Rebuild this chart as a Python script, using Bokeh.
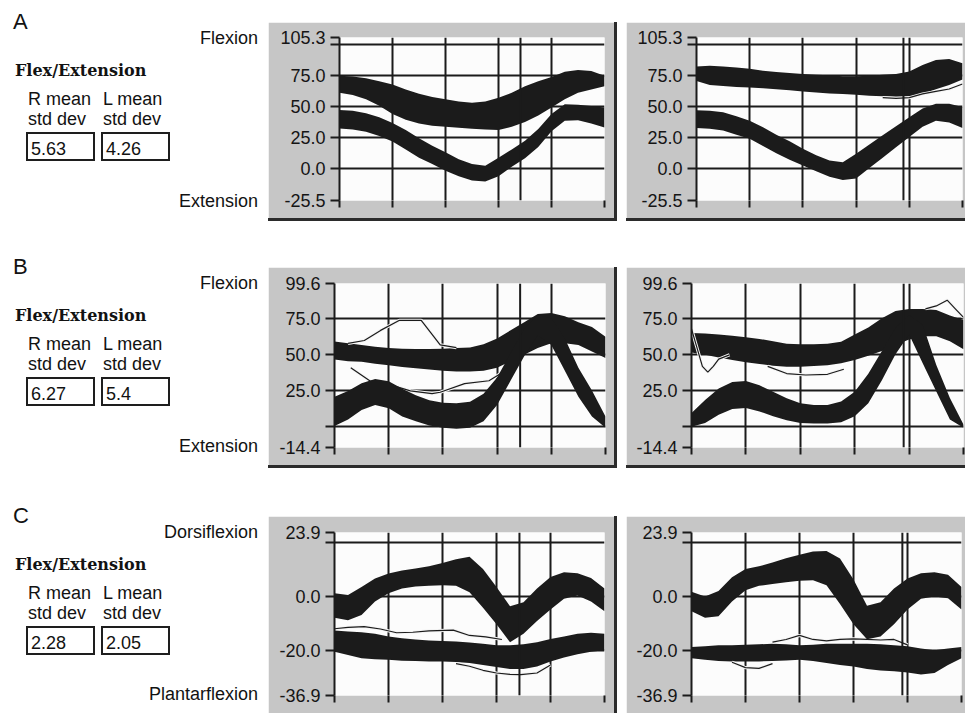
from bokeh.plotting import figure
from bokeh.models import Range1d, FixedTicker, Span, Div, Spacer, CustomLabelingPolicy
from bokeh.layouts import row, column
from bokeh.embed import file_html
from bokeh.resources import INLINE

# ---------------- data ----------------
GAIT = [0, 5, 10, 15, 20, 25, 30, 35, 40, 45, 50, 55, 60, 65, 70, 75, 80, 85, 90, 95, 100]

# Row A (knee) - left / right panels
A_L_BAND_HI = [47.1, 46.6, 44.5, 41.4, 36.7, 31.0, 24.5, 18.5, 13.3, 7.6, 3.7, 2.4, 8.9, 15.4, 22.5, 31.8, 44.0, 51.8, 51.3, 50.3, 49.2]
A_L_BAND_LO = [32.3, 31.5, 29.7, 26.3, 21.9, 15.4, 8.9, 3.7, -1.6, -6.0, -9.4, -10.2, -6.0, 1.5, 8.5, 17.5, 30.0, 38.5, 38.8, 36.2, 33.1]
A_L_TRIAL_HI = [74.7, 74.0, 72.7, 70.1, 67.5, 63.5, 60.2, 57.6, 55.7, 53.9, 52.9, 53.9, 57.0, 60.9, 66.2, 70.1, 73.7, 77.9, 79.2, 78.4, 74.7]
A_L_TRIAL_LO = [60.9, 59.1, 55.7, 50.5, 44.0, 39.3, 36.2, 34.4, 33.6, 32.8, 32.0, 31.5, 31.0, 33.6, 37.5, 42.7, 49.2, 55.7, 60.9, 63.5, 66.2]

A_R_BAND_HI = [46.9, 46.6, 45.3, 42.2, 38.5, 33.3, 27.3, 22.1, 16.1, 10.9, 6.5, 5.2, 12.0, 19.5, 26.8, 34.1, 41.4, 48.4, 52.1, 52.1, 49.5]
A_R_BAND_LO = [32.6, 32.0, 30.7, 27.3, 24.0, 18.2, 12.5, 7.3, 2.6, -2.1, -6.5, -9.1, -7.8, 0.5, 8.9, 17.2, 25.5, 33.6, 38.5, 37.0, 32.6]
A_R_TRIAL_HI = [82.0, 82.6, 82.0, 81.3, 80.2, 78.6, 77.6, 76.8, 76.0, 75.5, 75.0, 74.2, 74.2, 74.7, 75.5, 76.0, 78.1, 83.3, 87.2, 88.0, 84.6]
A_R_TRIAL_LO = [70.3, 67.2, 66.4, 65.6, 65.1, 64.6, 63.8, 63.0, 62.0, 61.2, 60.4, 59.9, 59.4, 58.6, 58.1, 57.8, 57.8, 59.9, 63.8, 67.2, 71.6]
A_R_OUT1_X = [70, 75, 80, 85, 90, 95, 100]
A_R_OUT1_Y = [57.0, 56.5, 57.0, 60.0, 62.0, 64.0, 68.0]

# Row B (hip) - left / right panels
B_L_BAND_HI = [20.8, 24.8, 30.3, 33.2, 31.6, 26.4, 21.9, 18.5, 16.7, 16.3, 17.4, 23.0, 34.3, 51.3, 68.2, 77.7, 75.4, 61.4, 41.1, 25.3, 7.2]
B_L_BAND_LO = [0.5, 5.0, 11.7, 15.1, 12.9, 7.2, 3.8, 0.9, -0.7, -1.4, -0.7, 3.8, 15.1, 32.1, 49.0, 63.7, 56.9, 38.9, 20.8, 7.2, -0.7]
B_L_TRIAL_HI = [59.2, 58.1, 56.9, 55.6, 54.7, 54.2, 54.0, 54.0, 54.2, 54.7, 55.1, 57.4, 61.4, 67.1, 72.7, 78.4, 79.1, 76.8, 72.7, 69.3, 62.6]
B_L_TRIAL_LO = [46.8, 45.6, 45.2, 43.8, 42.7, 41.6, 40.7, 39.8, 38.9, 38.4, 38.4, 38.9, 41.1, 45.6, 50.1, 54.7, 58.1, 58.1, 56.9, 52.4, 47.9]
B_L_OUT1_X = [5, 11, 17, 24, 32, 39, 45]
B_L_OUT1_Y = [58.0, 60.0, 67.0, 74.0, 74.0, 57.0, 55.0]
B_L_OUT2_X = [6, 13, 21, 28, 36, 39, 48, 57, 63]
B_L_OUT2_Y = [41.0, 32.0, 29.0, 25.0, 23.0, 24.0, 30.0, 32.0, 39.0]

B_R_BAND_HI = [9.5, 18.6, 26.6, 31.1, 31.8, 28.9, 24.3, 19.8, 16.4, 15.2, 15.2, 17.5, 24.3, 36.8, 52.7, 68.6, 77.7, 70.9, 43.0, 20.0, 1.6]
B_R_BAND_LO = [0.0, 2.7, 8.4, 12.3, 13.0, 10.7, 7.3, 4.5, 2.7, 2.3, 2.3, 3.2, 7.3, 16.4, 32.3, 50.5, 64.1, 44.1, 24.5, 5.0, -0.7]
B_R_TRIAL_HI = [65.2, 64.8, 64.1, 63.2, 62.3, 61.1, 59.5, 57.7, 57.3, 57.3, 57.7, 59.1, 64.1, 69.1, 75.5, 80.5, 81.8, 81.8, 81.1, 77.3, 74.3]
B_R_TRIAL_LO = [51.6, 50.0, 48.2, 46.4, 44.8, 43.6, 42.5, 41.8, 41.8, 42.3, 42.7, 44.1, 46.4, 49.3, 52.7, 56.8, 60.7, 63.0, 63.0, 59.5, 53.9]
B_R_OUT1_X = [0, 2, 4, 6, 8, 10, 14]
B_R_OUT1_Y = [68.0, 55.0, 42.0, 38.0, 42.0, 47.0, 50.0]
B_R_OUT2_X = [28, 35, 42, 50, 56]
B_R_OUT2_Y = [42.0, 37.0, 36.0, 36.5, 40.0]
B_R_OUT3_X = [86, 90, 94, 97, 100]
B_R_OUT3_Y = [82.0, 84.0, 88.0, 82.0, 76.0]

# Row C (ankle) - left / right panels
C_L_BAND_HI = [1.2, 0.6, 3.6, 6.7, 8.6, 9.7, 10.5, 11.3, 12.5, 13.9, 14.9, 10.3, 3.6, -3.6, -2.1, 3.0, 7.3, 9.1, 8.7, 6.9, 3.0]
C_L_BAND_LO = [-7.9, -8.8, -6.9, -1.8, 1.2, 3.0, 3.8, 4.0, 4.2, 4.0, 1.6, -4.2, -10.3, -17.0, -13.9, -9.1, -4.8, -0.8, 0.4, -1.8, -5.5]
C_L_TRIAL_HI = [-12.7, -13.0, -13.3, -13.9, -14.9, -15.5, -16.0, -16.4, -16.6, -16.8, -17.1, -17.6, -18.2, -18.2, -17.8, -17.0, -15.8, -14.9, -13.9, -13.5, -13.9]
C_L_TRIAL_LO = [-20.6, -21.8, -23.0, -23.4, -23.6, -23.9, -24.0, -24.2, -24.2, -24.4, -24.8, -25.5, -26.3, -27.0, -27.0, -26.1, -24.2, -22.7, -21.5, -20.6, -20.0]
C_L_OUT1_X = [0, 5, 11, 17, 23, 29, 35, 44, 50, 56, 62]
C_L_OUT1_Y = [-12.0, -11.5, -11.2, -12.1, -13.5, -13.3, -12.8, -12.5, -14.5, -15.0, -16.0]
C_L_OUT2_X = [45, 50, 55, 60, 65, 69, 75, 80]
C_L_OUT2_Y = [-25.0, -26.0, -27.5, -28.5, -29.0, -29.1, -28.5, -25.5]

C_R_BAND_HI = [1.8, 0.0, 2.1, 7.2, 10.3, 11.3, 12.7, 14.3, 15.6, 16.8, 17.0, 14.2, 6.4, -3.4, -2.1, 3.0, 6.7, 8.7, 9.1, 8.1, 3.6]
C_R_BAND_LO = [-5.5, -7.9, -7.3, -1.8, 2.4, 4.0, 4.7, 5.3, 5.9, 6.1, 4.2, -2.8, -10.3, -15.9, -14.9, -10.3, -4.8, -0.8, 0.0, -0.6, -4.8]
C_R_TRIAL_HI = [-18.8, -18.5, -18.2, -18.2, -18.0, -17.8, -17.6, -17.8, -18.2, -18.0, -17.6, -17.6, -17.6, -17.6, -17.8, -18.2, -18.5, -19.4, -20.0, -19.4, -18.8]
C_R_TRIAL_LO = [-23.0, -23.6, -24.0, -24.2, -24.2, -24.2, -24.0, -23.8, -23.6, -24.0, -24.8, -25.5, -26.1, -27.0, -27.6, -27.9, -28.3, -29.1, -28.5, -25.5, -23.0]
C_R_OUT1_X = [30, 35, 40, 45, 50, 55, 60, 65, 70, 75, 80]
C_R_OUT1_Y = [-17.0, -16.0, -14.5, -16.0, -16.5, -16.0, -15.8, -16.0, -16.2, -16.0, -18.0]
C_R_OUT2_X = [15, 20, 25, 30]
C_R_OUT2_Y = [-24.5, -26.5, -26.8, -25.0]

ROW_LETTERS = ["A", "B", "C"]
ROW_TITLE = "Flex/Extension"
R_STD = ["5.63", "6.27", "2.28"]
L_STD = ["4.26", "5.4", "2.05"]
POS_LABELS = ["Flexion", "Flexion", "Dorsiflexion"]
NEG_LABELS = ["Extension", "Extension", "Plantarflexion"]
Y_LIMITS = [(-25.5, 105.3), (-14.4, 99.6), (-36.9, 23.9)]
Y_TICKS = [[-25.5, 0, 25, 50, 75, 100, 105.3],
           [-14.4, 0, 25, 50, 75, 99.6],
           [-36.9, -20, 0, 20, 23.9]]
Y_TICK_LABELS = [["-25.5", "0.0", "25.0", "50.0", "75.0", "", "105.3"],
                 ["-14.4", "", "25.0", "50.0", "75.0", "99.6"],
                 ["-36.9", "-20.0", "0.0", "", "23.9"]]
H_GRID = [[0, 25, 50, 75, 100, 105.3], [0, 25, 50, 75, 99.6], [-20, 0, 20, 23.9]]
X_TICKS = [0, 20, 40, 60, 80, 100]
TOE_OFF = [(68.3, 77.8), (68.5, 78.0), (68.5, 78.1)]

PANELS = [
    [dict(bhi=A_L_BAND_HI, blo=A_L_BAND_LO, thi=A_L_TRIAL_HI, tlo=A_L_TRIAL_LO, out=[]),
     dict(bhi=A_R_BAND_HI, blo=A_R_BAND_LO, thi=A_R_TRIAL_HI, tlo=A_R_TRIAL_LO,
          out=[(A_R_OUT1_X, A_R_OUT1_Y)])],
    [dict(bhi=B_L_BAND_HI, blo=B_L_BAND_LO, thi=B_L_TRIAL_HI, tlo=B_L_TRIAL_LO,
          out=[(B_L_OUT1_X, B_L_OUT1_Y), (B_L_OUT2_X, B_L_OUT2_Y)]),
     dict(bhi=B_R_BAND_HI, blo=B_R_BAND_LO, thi=B_R_TRIAL_HI, tlo=B_R_TRIAL_LO,
          out=[(B_R_OUT1_X, B_R_OUT1_Y), (B_R_OUT2_X, B_R_OUT2_Y), (B_R_OUT3_X, B_R_OUT3_Y)])],
    [dict(bhi=C_L_BAND_HI, blo=C_L_BAND_LO, thi=C_L_TRIAL_HI, tlo=C_L_TRIAL_LO,
          out=[(C_L_OUT1_X, C_L_OUT1_Y), (C_L_OUT2_X, C_L_OUT2_Y)]),
     dict(bhi=C_R_BAND_HI, blo=C_R_BAND_LO, thi=C_R_TRIAL_HI, tlo=C_R_TRIAL_LO,
          out=[(C_R_OUT1_X, C_R_OUT1_Y), (C_R_OUT2_X, C_R_OUT2_Y)])],
]

# ---------------- styling / geometry ----------------
GRAY = "#c6c6c6"
INK = "#1b1b1b"
EDGE = "#2b2b2b"
FRAME_BG = "#fcfcfc"
SANS = "Liberation Sans"
LEFT_W = 268
PANEL_W = (346, 339)
EDGE_W = 3
GAP_W = 9
FIG_H = [196, 198, 197]
HAS_BOTTOM_EDGE = [True, True, False]
ROW_GAPS = [22, 46, 48]
BORDERS = [  # (left, right, top, bottom) for left and right panels
    ((71, 10, 15, 11), (70, 3, 15, 11)),
    ((66, 9, 16, 13), (65, 2, 16, 13)),
    ((66, 10, 16, 14), (65, 4, 16, 14)),
]
ROW_SHIFT = [0, 245, 494]


def make_panel(r, side):
    d = PANELS[r][side]
    bl, br, bt, bb = BORDERS[r][side]
    p = figure(width=PANEL_W[side], height=FIG_H[r], title=None,
               x_range=Range1d(0, 100), y_range=Range1d(*Y_LIMITS[r]),
               output_backend="svg", toolbar_location=None,
               min_border_left=bl, min_border_right=br,
               min_border_top=bt, min_border_bottom=bb)
    p.border_fill_color = GRAY
    p.background_fill_color = FRAME_BG
    p.outline_line_color = None

    # grid
    p.xgrid.ticker = FixedTicker(ticks=X_TICKS)
    p.ygrid.ticker = FixedTicker(ticks=H_GRID[r])
    for g in (p.xgrid, p.ygrid):
        g.grid_line_color = INK
        g.grid_line_width = 2
        g.grid_line_alpha = 1.0

    # y axis
    ya = p.yaxis[0]
    ya.ticker = FixedTicker(ticks=Y_TICKS[r])
    ya.major_label_overrides = {t: l for t, l in zip(Y_TICKS[r], Y_TICK_LABELS[r])}
    ya.major_label_text_font = SANS
    ya.major_label_text_font_size = "18px"
    ya.major_label_text_color = "#151515"
    ya.major_label_standoff = 5
    ya.axis_line_color = INK
    ya.axis_line_width = 2
    ya.major_tick_line_color = INK
    ya.major_tick_line_width = 2
    ya.major_tick_out = 9
    ya.major_tick_in = 0
    ya.minor_tick_line_color = None

    # x axis: tick marks only, no labels
    xa = p.xaxis[0]
    xa.ticker = FixedTicker(ticks=X_TICKS)
    xa.major_label_policy = CustomLabelingPolicy(code="return []")
    xa.major_label_standoff = 0
    xa.axis_line_color = None
    xa.major_tick_line_color = INK
    xa.major_tick_line_width = 2
    xa.major_tick_out = 7
    xa.major_tick_in = 0
    xa.minor_tick_line_color = None

    # toe-off marker
    p.add_layout(Span(location=TOE_OFF[r][side], dimension="height",
                      line_color=INK, line_width=2))

    # trials bundle and reference band
    p.varea(x=GAIT, y1=d["tlo"], y2=d["thi"], fill_color=INK)
    for xs, ys in d["out"]:
        p.line(xs, ys, line_color="#f4f4f4", line_width=3.2)
        p.line(xs, ys, line_color=INK, line_width=1.2)
    p.varea(x=GAIT, y1=d["blo"], y2=d["bhi"], fill_color=INK)
    return p


def edge(w, h):
    return Spacer(width=w, height=h, styles={"background-color": EDGE})


def txt(x, base, s, size, fam, weight="normal", anchor="left"):
    top = base - 0.86 * size
    if anchor == "left":
        h = f"left:{x}px;"
    else:
        h = f"right:{LEFT_W - x}px;"
    return (f'<div style="position:absolute;{h}top:{top:.1f}px;font-family:{fam};'
            f'font-weight:{weight};font-size:{size}px;line-height:{size}px;'
            f'white-space:nowrap;color:#121212;">{s}</div>')


def box(x0, y0, w, h, s):
    return (f'<div style="position:absolute;left:{x0}px;top:{y0}px;width:{w}px;height:{h}px;'
            f'box-sizing:border-box;border:2px solid #1e1e1e;background:#ffffff;"></div>'
            + txt(x0 + 5, y0 + 23, s, 18, SANS))


parts = []
for r in range(3):
    s = ROW_SHIFT[r]
    parts.append(txt(13, 30 + s, ROW_LETTERS[r], 22, SANS))
    parts.append(txt(15, 77 + s, ROW_TITLE, 16, "'DejaVu Serif', serif", weight="bold"))
    parts.append(txt(28, 105 + s, "R mean", 18, SANS))
    parts.append(txt(103, 105 + s, "L mean", 18, SANS))
    parts.append(txt(28, 125 + s, "std dev", 18, SANS))
    parts.append(txt(103, 125 + s, "std dev", 18, SANS))
    parts.append(box(26, 132 + s, 69, 29, R_STD[r]))
    parts.append(box(101, 132 + s, 69, 29, L_STD[r]))
    parts.append(txt(258, 44 + s, POS_LABELS[r], 18, SANS, anchor="right"))
    parts.append(txt(258, min(207 + s, 700), NEG_LABELS[r], 18, SANS, anchor="right"))

row_heights = [FIG_H[r] + (EDGE_W if HAS_BOTTOM_EDGE[r] else 0) for r in range(3)]
total_h = sum(ROW_GAPS) + sum(row_heights)
left_div = Div(text=f'<div style="position:relative;width:{LEFT_W}px;height:{total_h}px;">'
               + "".join(parts) + "</div>", width=LEFT_W, height=total_h, margin=0)

col_items = []
right_w = PANEL_W[0] + EDGE_W + GAP_W + PANEL_W[1]
for r in range(3):
    col_items.append(Spacer(width=right_w, height=ROW_GAPS[r]))
    pl = make_panel(r, 0)
    pr = make_panel(r, 1)
    if HAS_BOTTOM_EDGE[r]:
        bl = column(pl, edge(PANEL_W[0], EDGE_W))
        br = column(pr, edge(PANEL_W[1], EDGE_W))
    else:
        bl, br = pl, pr
    col_items.append(row(bl, edge(EDGE_W, row_heights[r]),
                         Spacer(width=GAP_W, height=row_heights[r]), br))

layout = row(left_div, column(*col_items))

open("out.html", "w").write(file_html(layout, INLINE))
